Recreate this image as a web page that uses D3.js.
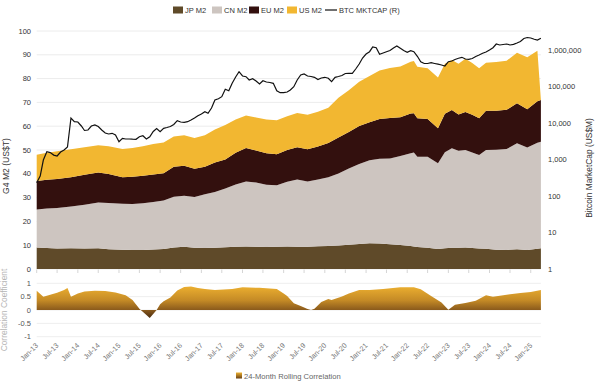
<!DOCTYPE html>
<html><head><meta charset="utf-8">
<script src="https://cdn.jsdelivr.net/npm/d3@7"></script>
<style>body{margin:0;background:#fff}svg{display:block;font-family:"Liberation Sans",Arial,sans-serif}</style>
</head><body><svg id="c" width="600" height="383"></svg>
<script>
// ---------- DATA ----------
const seriesNames = ["JP M2","CN M2","EU M2","US M2"];
const m2Dates = ["2013-01","2013-04","2013-07","2013-11","2014-03","2014-07","2014-10","2015-02","2015-05","2015-08","2015-11","2016-02","2016-05","2016-08","2016-11","2017-02","2017-05","2017-08","2017-11","2018-02","2018-05","2018-08","2018-11","2019-02","2019-05","2019-08","2019-11","2020-02","2020-05","2020-08","2020-11","2021-02","2021-05","2021-08","2021-11","2022-02","2022-03","2022-04","2022-07","2022-10","2022-12","2023-02","2023-04","2023-06","2023-08","2023-10","2023-12","2024-03","2024-06","2024-09","2024-12","2025-03","2025-04"];
const jpM2 = [9.0,8.8,8.6,8.7,8.6,8.7,8.3,8.1,8.0,8.0,8.2,8.4,9.0,9.4,8.9,8.8,8.9,9.1,9.3,9.5,9.3,9.2,9.3,9.5,9.4,9.4,9.6,9.7,9.9,10.2,10.5,10.8,10.7,10.4,10.1,9.7,9.5,9.2,8.9,8.4,8.7,8.9,8.9,9.0,8.8,8.6,8.5,8.1,8.0,8.3,8.0,8.5,8.7];
const cnM2 = [16.0,16.6,17.0,17.6,18.4,19.2,19.4,19.3,19.3,19.6,20.0,20.4,21.4,21.4,21.4,22.6,23.5,24.7,26.2,27.3,27.0,26.2,25.9,27.2,28.2,27.4,28.0,28.8,30.2,32.0,33.6,34.9,35.6,36.0,37.4,38.9,39.4,38.0,38.3,36.0,40.4,41.8,40.8,41.0,40.2,39.3,41.5,42.0,42.4,44.5,43.1,44.5,44.8];
const euM2 = [12.0,12.1,12.2,12.2,12.6,12.6,12.2,11.2,11.5,11.6,11.5,11.4,12.6,12.6,11.8,11.6,12.4,12.2,13.3,14.0,13.5,13.2,13.0,13.3,13.6,13.5,13.9,14.4,15.2,15.4,16.0,16.0,16.7,17.0,16.3,16.7,16.5,16.1,15.8,14.7,16.1,16.1,15.2,16.0,15.8,15.4,16.5,16.4,16.5,16.8,16.0,17.5,17.5];
const usM2 = [11.0,11.3,11.7,11.8,11.6,11.5,11.7,11.8,12.0,12.4,12.8,12.9,12.7,12.8,12.9,13.2,13.8,14.5,14.0,13.7,13.9,14.2,14.3,14.2,14.3,14.5,14.6,14.9,16.7,17.5,18.6,19.4,20.4,21.1,21.3,21.8,22.0,21.7,21.3,21.4,21.0,21.0,21.3,22.3,21.8,21.0,20.2,20.5,20.6,21.3,21.9,21.2,0];

// Bitcoin market cap (US$M), monthly from Jan-13
const btcStart = "2013-01";
const btcCap = [231,353,968,1636,1550,1320,1247,1604,1820,2200,13700,10860,10640,8280,6240,6430,8280,8810,8020,6430,5320,5000,5220,4690,3070,3810,3650,3650,3600,3580,4210,4490,3650,4210,5850,7070,5780,7160,7530,8020,9100,11560,10640,10450,10860,12080,13700,15850,17650,20400,18450,25700,42700,46300,52600,83800,76700,122400,182000,254000,194000,185500,150600,163700,141500,117000,144200,132800,128800,122400,76700,67600,67600,70600,80200,98800,150600,206500,219800,194000,188000,178700,155500,171000,178700,167800,135400,178700,188000,200000,227000,230000,230000,301500,413000,604000,777000,898000,1208000,1156000,762000,828000,898000,969000,1135000,1288000,1114000,969000,865000,957000,898000,672000,478000,427000,427000,449000,427000,408000,388000,365000,478000,500000,550000,593000,631000,566000,556000,585000,664000,730000,813000,881000,1000000,1156000,1459000,1371000,1415000,1459000,1371000,1432000,1556000,1710000,2065000,2198000,2133000,1965000,1879000,2093000];

const corrDates = ["2013-01","2013-03","2013-05","2013-07","2013-09","2013-10","2013-11","2014-01","2014-03","2014-06","2014-09","2014-12","2015-03","2015-05","2015-07","2015-10","2015-12","2016-01","2016-02","2016-04","2016-06","2016-08","2016-10","2016-12","2017-02","2017-05","2017-10","2018-01","2018-06","2018-11","2019-01","2019-02","2019-04","2019-06","2019-08","2019-09","2019-10","2019-12","2020-02","2020-03","2020-06","2020-08","2020-11","2021-02","2021-06","2021-11","2022-03","2022-05","2022-08","2022-11","2023-01","2023-03","2023-06","2023-09","2023-12","2024-02","2024-06","2024-10","2025-01","2025-04"];
const corrValues = [0.72,0.5,0.57,0.65,0.75,0.82,0.5,0.62,0.69,0.72,0.71,0.66,0.55,0.37,0.05,-0.3,0.0,0.22,0.33,0.47,0.73,0.86,0.88,0.82,0.79,0.75,0.79,0.85,0.83,0.79,0.62,0.52,0.25,0.15,0.04,0.0,0.05,0.3,0.41,0.37,0.51,0.62,0.75,0.75,0.79,0.85,0.85,0.78,0.52,0.28,0.01,0.2,0.26,0.35,0.55,0.5,0.57,0.64,0.67,0.75];

const leftTicks = [0,10,20,30,40,50,60,70,80,90,100];
const rightTicks = [1,10,100,1000,10000,100000,1000000];
const corrTicks = [-1,-0.5,0,0.5,1];
const xTickStart = "2013-01", xTickEnd = "2025-01";

// ---------- SETUP ----------
const parse = d3.utcParse("%Y-%m");
const svg = d3.select("#c");
const colors = {"JP M2":"#5f4a29","CN M2":"#cdc5c0","EU M2":"#33100e","US M2":"#f2b731"};
const L = 36.7, R = 540.9;
const x = d3.scaleUtc().domain([parse("2013-01"), parse("2025-04")]).range([L, R]);
const y = d3.scaleLinear().domain([0,100]).range([269,31]);
const yR = d3.scaleLog().domain([1,1e6]).range([269,50]);
const yC = d3.scaleLinear().domain([-1,1]).range([336.7,283.3]);

// gridlines main
svg.append("g").selectAll("line").data(leftTicks).join("line")
  .attr("x1",L).attr("x2",R).attr("y1",d=>y(d)).attr("y2",d=>y(d))
  .attr("stroke","#ececec").attr("stroke-width",1);

// stacked areas
const table = m2Dates.map((d,i)=>({date:parse(d),"JP M2":jpM2[i],"CN M2":cnM2[i],"EU M2":euM2[i],"US M2":usM2[i]}));
const stack = d3.stack().keys(seriesNames)(table);
const area = d3.area().x(d=>x(d.data.date)).y0(d=>y(d[0])).y1(d=>y(d[1]));
svg.append("g").selectAll("path").data(stack).join("path")
  .attr("d",area).attr("fill",d=>colors[d.key]);

// BTC line
const btc = btcCap.map((v,i)=>({date:d3.utcMonth.offset(parse(btcStart),i),v}));
svg.append("path").datum(btc)
  .attr("d",d3.line().x(d=>x(d.date)).y(d=>yR(d.v)))
  .attr("fill","none").attr("stroke","#111").attr("stroke-width",1.2);

// main x tick marks
const tickDates = d3.utcMonth.every(6).range(parse(xTickStart), d3.utcMonth.offset(parse(xTickEnd),1));
svg.append("g").selectAll("line").data(tickDates).join("line")
  .attr("x1",d=>x(d)).attr("x2",d=>x(d)).attr("y1",269.5).attr("y2",273)
  .attr("stroke","#d5d5d5");

// left axis labels
svg.append("g").selectAll("text").data(leftTicks).join("text")
  .attr("x",31).attr("y",d=>y(d)).attr("dy","0.35em").attr("text-anchor","end")
  .attr("font-size",7.5).attr("fill","#333").text(d=>d);
// right axis labels
svg.append("g").selectAll("text").data(rightTicks).join("text")
  .attr("x",548).attr("y",d=>yR(d)).attr("dy","0.35em").attr("text-anchor","start")
  .attr("font-size",7.5).attr("fill","#333").text(d3.format(","));

svg.append("text").attr("transform","translate(9,166) rotate(-90)").attr("text-anchor","middle")
  .attr("font-size",8.6).attr("fill","#333").text("G4 M2 (US$T)");
svg.append("text").attr("transform","translate(592,168) rotate(-90)").attr("text-anchor","middle")
  .attr("font-size",8.4).attr("fill","#333").text("Bitcoin MarketCap (US$M)");

// legend top
const legItems = [...seriesNames.map(k=>({k,t:"rect"})),{k:"BTC MKTCAP (R)",t:"line"}];
const legX = [173,212,249,287,325];
const lg = svg.append("g");
legItems.forEach((d,i)=>{
  const g = lg.append("g").attr("transform",`translate(${legX[i]},10)`);
  if(d.t==="rect") g.append("rect").attr("x",0).attr("y",-3.5).attr("width",10).attr("height",7).attr("fill",colors[d.k]);
  else g.append("line").attr("x1",0).attr("x2",12).attr("y1",0).attr("y2",0).attr("stroke","#111").attr("stroke-width",1.2);
  g.append("text").attr("x",d.t==="rect"?12:14).attr("y",0).attr("dy","0.35em").attr("font-size",7.5).attr("fill","#333").text(d.k);
});

// ---------- correlation panel ----------
const defs = svg.append("defs");
const grad = defs.append("linearGradient").attr("id","cg").attr("gradientUnits","userSpaceOnUse")
  .attr("x1",0).attr("x2",0).attr("y1",yC(0.9)).attr("y2",yC(-0.3));
grad.append("stop").attr("offset","0%").attr("stop-color","#edb030");
grad.append("stop").attr("offset","45%").attr("stop-color","#c48a26");
grad.append("stop").attr("offset","75%").attr("stop-color","#8a5a1c");
grad.append("stop").attr("offset","100%").attr("stop-color","#4a2d10");

svg.append("g").selectAll("line").data(corrTicks).join("line")
  .attr("x1",L).attr("x2",R).attr("y1",d=>yC(d)).attr("y2",d=>yC(d))
  .attr("stroke","#eeeeee");
const corr = corrDates.map((d,i)=>({date:parse(d),v:corrValues[i]}));
svg.append("path").datum(corr)
  .attr("d",d3.area().x(d=>x(d.date)).y0(yC(0)).y1(d=>yC(d.v)))
  .attr("fill","url(#cg)");

svg.append("g").selectAll("text").data(corrTicks).join("text")
  .attr("x",31).attr("y",d=>yC(d)).attr("dy","0.35em").attr("text-anchor","end")
  .attr("font-size",7.5).attr("fill","#555").text(d=>d);
svg.append("text").attr("transform","translate(7,310) rotate(-90)").attr("text-anchor","middle")
  .attr("font-size",8.4).attr("fill","#b5b5b5").text("Correlation Coefficient");

// rotated x labels
const fmt = d3.utcFormat("%b-%y");
svg.append("g").selectAll("text").data(tickDates).join("text")
  .attr("transform",d=>`translate(${x(d)+2},346) rotate(-45)`)
  .attr("text-anchor","end").attr("font-size",7.2).attr("fill","#777").text(fmt);

// bottom legend
const g2 = defs.append("linearGradient").attr("id","cg2").attr("x1",0).attr("x2",0).attr("y1",0).attr("y2",1);
g2.append("stop").attr("offset","0%").attr("stop-color","#edb030");
g2.append("stop").attr("offset","100%").attr("stop-color","#6a4214");
const bl = svg.append("g").attr("transform","translate(236,376)");
bl.append("rect").attr("x",0).attr("y",-3.5).attr("width",6).attr("height",6).attr("fill","url(#cg2)");
bl.append("text").attr("x",8).attr("y",0).attr("dy","0.35em").attr("font-size",7.6).attr("fill","#666").text("24-Month Rolling Correlation");
</script></body></html>
